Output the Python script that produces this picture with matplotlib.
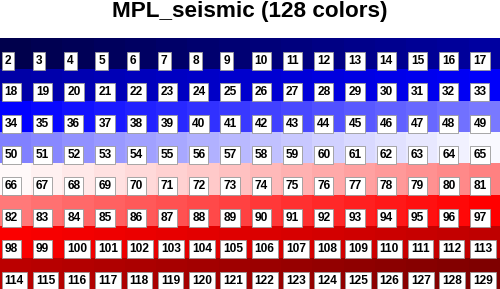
import numpy as np
import matplotlib
matplotlib.use("Agg")
import matplotlib.pyplot as plt

N_COLORS = 128
N_ROWS = 8
N_COLS = 16
FIRST_INDEX = 2
TITLE = "MPL_seismic (128 colors)"

color_indices = list(range(FIRST_INDEX, FIRST_INDEX + N_COLORS))
colors = plt.cm.seismic(np.linspace(0, 1, N_COLORS))

plt.rcParams["font.family"] = ["Liberation Sans", "DejaVu Sans"]

fig = plt.figure(figsize=(5.0, 2.89), dpi=100, facecolor="white")
ax = fig.add_axes([0, 0, 1, 1 - 38 / 289])

grid = colors.reshape(N_ROWS, N_COLS, 4)
ax.imshow(grid, extent=(0, N_COLS, N_ROWS, 0), aspect="auto", interpolation="nearest")

for k, idx in enumerate(color_indices):
    r, c = divmod(k, N_COLS)
    ax.text(c + 0.15, r + 0.73, str(idx), ha="left", va="center", fontsize=8.6,
            fontweight="bold", color="black",
            bbox=dict(boxstyle="square,pad=0.25", facecolor="white", edgecolor="#999999", linewidth=0.6))

ax.set_xlim(0, N_COLS)
ax.set_ylim(N_ROWS, 0)
ax.axis("off")

fig.text(0.5, 1 - 12 / 289, TITLE, ha="center", va="center", fontsize=16.2, fontweight="bold")

fig.savefig("out.png", dpi=100, facecolor="white")
plt.close(fig)
